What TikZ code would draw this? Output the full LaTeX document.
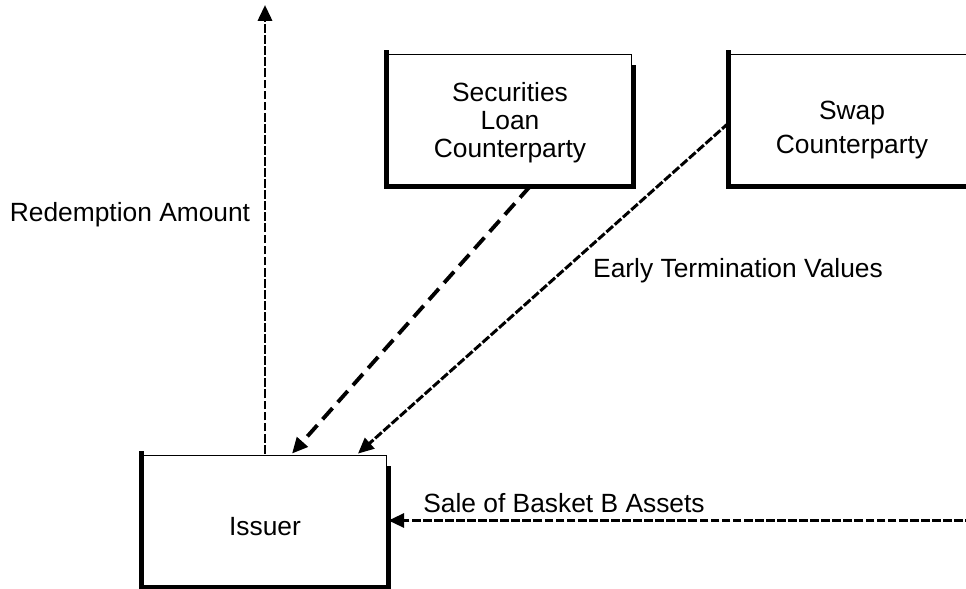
\documentclass[tikz,border=0pt]{standalone}
\usepackage{fontspec}
\setmainfont{Liberation Sans}
\usetikzlibrary{arrows.meta}

\tikzset{
  party/.style={draw, double, double distance=0.8pt, line width=0.45pt,
    minimum width=4.92cm, minimum height=2.66cm, inner sep=0pt, align=center},
  rim/.style={line width=2.7pt, line cap=rect},
  flow/.style={line width=1.7pt, dash pattern=on 5pt off 1.3pt},
  loanflow/.style={line width=2.2pt, dash pattern=on 8.5pt off 4.5pt}
}

\begin{document}
\begin{tikzpicture}[x=0.02cm,y=-0.02cm,>={Triangle[length=9pt,width=8pt]},
    font=\fontsize{15}{17}\selectfont]
        \clip (0,0) rectangle (966,588);
        % the three parties (struts push the text a little below centre)
        \node[party] (iss) at (265,520.5) {\rule{0pt}{17.6pt}Issuer};
        \node[party] (secl) at (510,119.5) {\rule{0pt}{14.3pt}Securities\\[-1.1pt]Loan\\[-1.1pt]Counterparty};
        \node[party] (swap) at (852,119.5) {\rule{0pt}{22.3pt}Swap\\[2.3pt]Counterparty};
        % heavy edges on the left, bottom and right
        \foreach \b in {iss,secl,swap}
          \draw[rim] ([yshift=-0.3cm]\b.north east) -- (\b.south east) -- (\b.south west) -- (\b.north west);
        % free ends
        \coordinate (top) at (265,5);
        \coordinate (far) at (985,520.5);
        % flows into and out of the issuer
        \draw[flow,->] (iss.north) -- (top);
        \draw[loanflow,->] ([xshift=0.4cm]secl.south) -- ([xshift=0.54cm]iss.north);
        \draw[flow,->] ([yshift=-0.07cm]swap.west) -- ([xshift=1.86cm]iss.north);
        \draw[flow,->] (far) -- (iss.east);
        % labels
        \node (redam) at (130,215) {Redemption Amount};
        \node (etv) at (738,271) {Early Termination Values};
        \node (sale) at (564,503) {Sale of Basket B Assets};
\end{tikzpicture}
\end{document}
